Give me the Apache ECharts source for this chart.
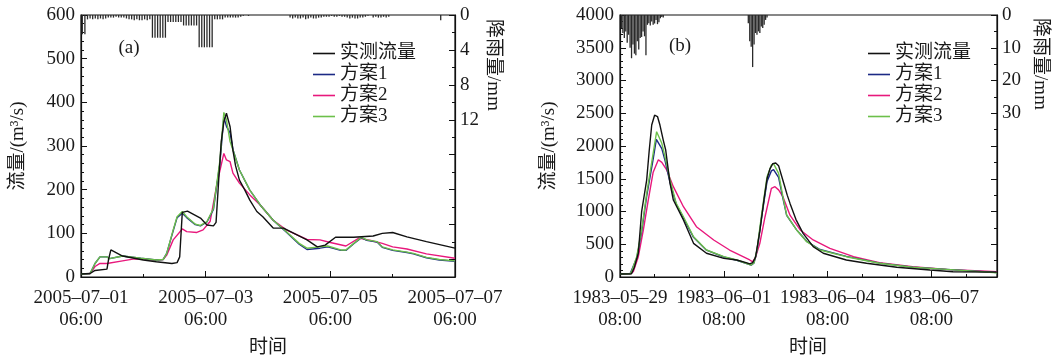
<!DOCTYPE html>
<html><head><meta charset="utf-8">
<script src="https://cdn.jsdelivr.net/npm/echarts@6/dist/echarts.min.js"></script>
<style>html,body{margin:0;padding:0;background:#fff}#c{width:1058px;height:361px}</style>
</head><body><div id="c"></div>
<script>
// ---------- Panel (a): hours from 2005-07-01 06:00 ----------
const legendNames = ['实测流量', '方案1', '方案2', '方案3'];
const xTicksA = ['2005–07–01\n06:00', '2005–07–03\n06:00', '2005–07–05\n06:00', '2005–07–07\n06:00'];
const xTicksB = ['1983–05–29\n08:00', '1983–06–01\n08:00', '1983–06–04\n08:00', '1983–06–07\n08:00'];

const obsA_h = [0,3.5,5.4,10,10.6,11.5,16,24,29,35,37,38,39,41,46,48.5,51,52,53,54,55,56,56.6,57.4,58.5,59.5,61,63,65,67.7,70,74,78,82,87,91,94,98,105,112.5,116,120,125.5,133,144];
const obsA_v = [7,8,15,18,40,62,48,39,35,31,33,46,148,151,135,119,117,125,220,310,355,375,371,344,290,255,222,200,176,150,138,112,112,100,85,69,73,91,91,94,100,102,92,81,66];

const s1A_h = [0,3.5,5.4,7.3,10,11,16,23,29,31.6,33,35.5,37,39,40.7,44,46,48.5,51,53.5,55,56,57.4,58.5,61,65,69,74,79,84,87,92,95,100,102,105,108,110,114,116,120,125.5,128,133,138,144];
const s1A_v = [7,8,31,46,46,42,48,43,39,40,54,106,136,146,136,120,117,126,155,262,366,345,330,292,245,199,165,130,103,75,63,66,69,61,61,76,90,84,80,68,61,56,53,44,39,36];

const s2A_h = [0,3.5,5.4,7.3,10,16,20,24,29,31.6,33,35.5,39,40.7,44.6,47,49.7,52.4,55,56,57.4,58.5,61,65,69,74,79,87,92,96,102,107,112,116,120,125.5,133,144];
const s2A_v = [7,8,24,31,31,37,41,41,39,40,50,85,110,104,102,108,127,215,283,268,264,238,215,188,165,130,108,86,85,79,71,89,83,77,69,64,53,43];

const s3A_h = [0,3.5,5.4,7.3,10,11,16,23,29,31.6,33,35.5,37,39,40.7,44,46,48.5,51,53.5,55,56,57.4,58.5,61,65,69,74,79,84,87,92,95,100,102,105,108,110,114,116,120,125.5,128,133,138,144];
const s3A_v = [7,8,31,46,46,42,48,43,39,40,54,108,138,150,138,121,118,127,157,268,377,360,310,291,245,199,165,130,104,77,66,69,71,62,62,77,91,85,81,69,62,57,54,45,40,37];

// hourly rainfall (mm), hour index from 2005-07-01 06:00
const rainA = [2.2,2.2,0.5,0.4,0.5,0.4,0.5,0.4,0.5,0.4,0.3,0.3,0.3,0.2,0.3,0.3,0.3,0.4,0.5,0.5,0.6,0.5,0.6,0.6,0.5,0.6,0.5,
  2.6,2.6,2.6,2.6,2.6,2.6, 0.8,0.8,0.8,0.8,0.8,0.8, 1.2,1.2,1.2,1.2,1.2,1.2, 3.7,3.7,3.7,3.7,3.7,3.7,
  0.5,0.5,0.5,0.5, 0.3,0.3,0.3,0.3,0.3,0.3, 0.2,0.1,0,0.1,
  0,0,0,0,0,0,0,0,0,0,0,0,0,0,0,
  0.3,0.4,0.3,0.4,0.4,0.3,0.5,0.4,0.3,0.4,0.4,0.3,0.3,0.2,
  0.2,0.2,0.1,0.2,0.2,0.1,0.2,0.2,
  0.3,0.4,0.3,0.4,0.4,0.3,0.3,0.2,
  0.1,0,
  0.3,0.2,0.3,0.3,0.2,0.3,0.2,
  0,0,0,0,0,0,0,0,0,0,0,0,0,0,0,0,0,0,0,
  0.6,
  0,0,0,0,0];

// ---------- Panel (b): hours from 1983-05-29 08:00 ----------
const obsB_h = [0,8,10,12.7,15,18.5,20.3,22,24,25,26,27.7,30,31.7,34.7,37,44,51,60,72,81,88,90,92,94,97,100,102,104,106,108,110,112,114,116,118,122,127,134,141,157,171,192,215,231,261.5];
const obsB_v = [46,50,150,362,997,1480,1939,2320,2470,2490,2450,2320,2090,1939,1430,1175,870,514,362,285,260,215,200,220,300,700,1200,1500,1650,1730,1740,1700,1550,1400,1250,1120,880,667,463,362,260,209,148,107,81,75];

const s1B_h = [0,7,8,11.6,15,18.5,23,25.2,29,31.2,34.7,39,44,51,60,72,81,91,93,95,98,102,105,106.5,110,113,115.6,122.5,129.5,138.7,157,180,203,226.6,261.5];
const s1B_v = [46,50,75,290,690,1230,1800,2100,1960,1780,1440,1110,900,605,410,305,255,180,215,400,880,1460,1620,1640,1520,1200,940,720,545,420,315,212,150,117,68];

const s2B_h = [0,7,9.2,12.7,16.2,19.6,23,26.6,29,32.4,37,44,53,65,76,90,92,94,97,100.6,105,107.5,110,113,118,125,134,145.6,162,180,203,226.6,261.5];
const s2B_v = [46,48,81,310,718,1175,1600,1790,1750,1634,1379,1073,768,565,412,260,230,300,514,920,1352,1379,1330,1226,940,718,565,438,310,219,158,117,81];

const s3B_h = [0,7,8,11.6,15,18.5,23,25.4,29,31.2,34.7,39,44,51,60,72,81,91,93,95,98,102,105,106.5,110,113,115.6,122.5,129.5,138.7,157,180,203,226.6,261.5];
const s3B_v = [46,50,81,310,718,1278,1889,2218,2041,1837,1481,1125,920,615,412,310,260,183,220,412,920,1531,1710,1730,1583,1226,946,718,539,412,310,209,148,117,66];

const rainB_h = [1,2,3,4,5,6,7,8,9,10,11,12,13,14,15,16,17,18,19,20,21,22,23,24,25,26,27,28,29,30,
  89,90,91,92,93,94,95,96,97,98,99,100,101,102];
const rainB_v = [4,5.5,7,5,8.5,6,10,13.2,9,11.8,12.3,8,10.5,7,6.7,5,6.5,12.3,3,2.5,3.2,2,3,2.6,1.5,2.8,2.2,1,0.6,0.8,
  2.5,8,9.7,15.9,9,5.5,6,5,5.5,3.5,4,3,1.5,0.8];

// ---------- build ----------
const FONT = "'Liberation Serif','Noto Sans CJK SC',serif";
const TXT = '#1a1a1a';
const COLORS = {obs:'#111111', s1:'#1c2a85', s2:'#e8187c', s3:'#6cc04a'};
const zip = (h, v) => h.map((x, i) => [x, v[i]]);

function xAxis(grid, max, interval, labels) {
  return {
    type:'value', gridIndex:grid, min:0, max:max, interval:interval,
    axisLine:{show:true, onZero:false, lineStyle:{color:'#111', width:1.2}},
    axisTick:{show:true, inside:true, length:6, lineStyle:{color:'#111'}},
    minorTick:{show:true, splitNumber: grid===0?2:3, length:3, lineStyle:{color:'#111'}},
    splitLine:{show:false},
    axisLabel:{show:true, showMaxLabel: grid===0, margin:10, color:TXT, fontFamily:FONT, fontSize:19, lineHeight:22,
      formatter:(v)=>{ const k = Math.round(v/interval); return (Math.abs(v-k*interval)<1e-6 && labels[k]) ? labels[k] : ''; }}
  };
}
function yFlow(grid, max, interval) {
  return {
    type:'value', gridIndex:grid, position:'left', min:0, max:max, interval:interval,
    axisLine:{show:true, lineStyle:{color:'#111', width:1.2}},
    axisTick:{show:true, inside:true, length:6, lineStyle:{color:'#111'}},
    minorTick:{show:true, splitNumber:5, length:3, lineStyle:{color:'#111'}},
    splitLine:{show:false},
    axisLabel:{margin:6, color:TXT, fontFamily:FONT, fontSize:19, formatter:(v)=>String(v)}
  };
}
function yRain(grid, max, interval, lastLabel) {
  return {
    type:'value', gridIndex:grid, position:'right', inverse:true, min:0, max:max, interval:interval,
    axisLine:{show:true, lineStyle:{color:'#111', width:1.2}},
    axisTick:{show:true, inside:true, length:6, lineStyle:{color:'#111'}},
    minorTick:{show:true, splitNumber:2, length:3, lineStyle:{color:'#111'}},
    splitLine:{show:false},
    axisLabel:{margin:5, color:TXT, fontFamily:FONT, fontSize:19, showMaxLabel:false,
      formatter:(v)=> v<=lastLabel ? String(v) : ''}
  };
}
function line(name, data, xi, yi, color) {
  return {name:name, type:'line', xAxisIndex:xi, yAxisIndex:yi, data:data, symbol:'none', showSymbol:false,
    lineStyle:{color:color, width:1.4}, itemStyle:{color:color}, animation:false, z:3};
}
function legend(left) {
  return {data:legendNames.map(n=>({name:n, icon:'rect'})), orient:'vertical', left:left, top:38,
    itemWidth:22, itemHeight:1.6, itemGap:0,
    textStyle:{fontFamily:FONT, fontSize:19, color:TXT, lineHeight:21}, selectedMode:false};
}
function gtext(text, x, y, rot) {
  return {type:'text', x:x, y:y, rotation:rot||0, silent:true,
    style:{text:text, fill:TXT, font:"19px " + FONT, align:'center', verticalAlign:'middle', textAlign:'center', textVerticalAlign:'middle'}};
}

const option = {
  backgroundColor:'#fff',
  animation:false,
  grid:[
    {left:81, top:15, width:374, height:262, show:true, borderColor:'#111', borderWidth:1.2},
    {left:620, top:15, width:377, height:262, show:true, borderColor:'#111', borderWidth:1.2}
  ],
  xAxis:[ xAxis(0, 144, 48, xTicksA), xAxis(1, 261.5, 72, xTicksB) ],
  yAxis:[ yFlow(0, 600, 100), yRain(0, 30, 4, 12), yFlow(1, 4000, 500), yRain(1, 80, 10, 30) ],
  legend:[ legend(308), legend(863) ],
  series:[
    {name:'降雨A', type:'bar', xAxisIndex:0, yAxisIndex:1, data:rainA.map((v,i)=>[i+0.5, v]), barWidth:1.3,
      itemStyle:{color:'#2a2a2a'}, animation:false, z:2},
    line('方案2', zip(s2A_h, s2A_v), 0, 0, COLORS.s2),
    line('方案1', zip(s1A_h, s1A_v), 0, 0, COLORS.s1),
    line('方案3', zip(s3A_h, s3A_v), 0, 0, COLORS.s3),
    line('实测流量', zip(obsA_h, obsA_v), 0, 0, COLORS.obs),
    {name:'降雨B', type:'bar', xAxisIndex:1, yAxisIndex:3, data:zip(rainB_h, rainB_v), barWidth:1.3,
      itemStyle:{color:'#2a2a2a'}, animation:false, z:2},
    line('方案2', zip(s2B_h, s2B_v), 1, 2, COLORS.s2),
    line('方案1', zip(s1B_h, s1B_v), 1, 2, COLORS.s1),
    line('方案3', zip(s3B_h, s3B_v), 1, 2, COLORS.s3),
    line('实测流量', zip(obsB_h, obsB_v), 1, 2, COLORS.obs)
  ],
  graphic:[
    gtext('(a)', 129, 48), gtext('(b)', 680, 46),
    gtext('流量/(m³/s)', 18, 146, Math.PI/2), gtext('流量/(m³/s)', 549, 146, Math.PI/2),
    gtext('降雨量/mm', 493, 65, -Math.PI/2), gtext('降雨量/mm', 1040, 64, -Math.PI/2),
    gtext('时间', 268, 348), gtext('时间', 808, 348)
  ]
};
const chart = echarts.init(document.getElementById('c'), null, {renderer:'canvas'});
chart.setOption(option);
</script></body></html>
